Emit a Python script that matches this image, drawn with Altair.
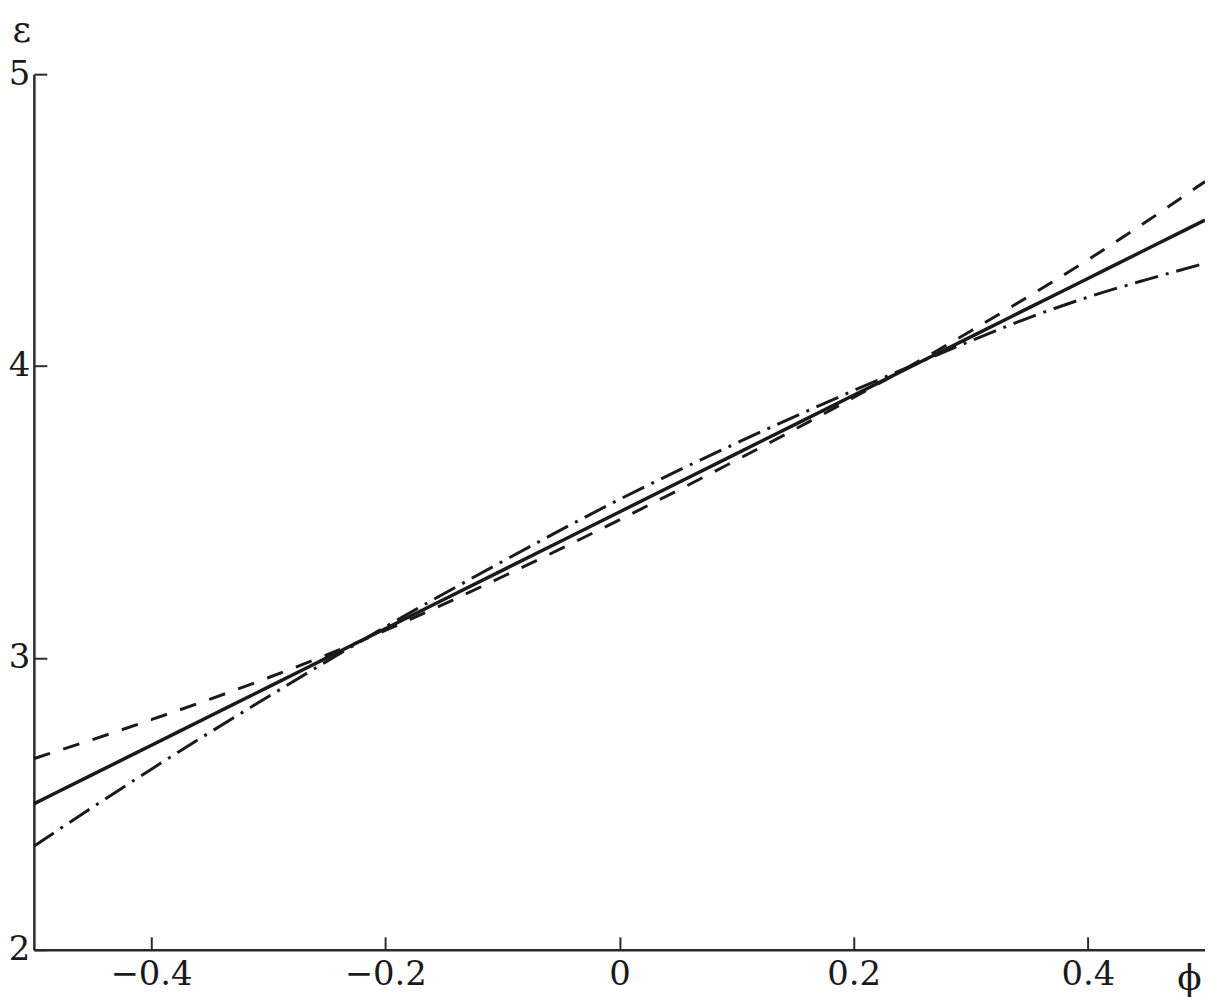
import altair as alt
import pandas as pd

phi = [-0.5, -0.45, -0.4, -0.35, -0.3, -0.25, -0.2, -0.1, 0.0, 0.1, 0.2, 0.25, 0.3, 0.35, 0.4, 0.45, 0.5]
eps_solid = [2.5, 2.6, 2.7, 2.8, 2.9, 3.0, 3.1, 3.3, 3.5, 3.7, 3.9, 4.0, 4.1, 4.2, 4.3, 4.4, 4.5]
eps_dashed = [2.655, 2.72, 2.788, 2.858, 2.932, 3.01, 3.094, 3.278, 3.473, 3.678, 3.892, 4.004, 4.12, 4.24, 4.364, 4.495, 4.632]
eps_dashdot = [2.355, 2.488, 2.618, 2.744, 2.867, 2.988, 3.106, 3.33, 3.543, 3.736, 3.916, 4.002, 4.086, 4.166, 4.236, 4.296, 4.352]

x_ticks = [-0.4, -0.2, 0.0, 0.2, 0.4]
y_ticks = [2, 3, 4, 5]
series_names = ["solid", "dashed", "dashdot"]

rows = []
for name, vals in zip(series_names, [eps_solid, eps_dashed, eps_dashdot]):
    for p, e in zip(phi, vals):
        rows.append({"phi": p, "eps": e, "s": name})
df = pd.DataFrame(rows)

W, H = 1177, 880
FONT = "DejaVu Serif"
INK = "#1a1a1a"
AX = "#2a2a2a"

xscale = alt.Scale(domain=[-0.5, 0.5], nice=False, zero=False)
yscale = alt.Scale(domain=[2, 5], nice=False, zero=False)

base = alt.Chart(df)

solid = base.transform_filter(alt.datum.s == "solid").mark_line(
    interpolate="monotone", strokeWidth=3.5, color=INK
).encode(
    x=alt.X("phi:Q", scale=xscale, axis=alt.Axis(
        orient="bottom", values=x_ticks, format="~g", ticks=False, grid=False,
        domain=True, domainColor=AX, domainWidth=2.5,
        labelFont=FONT, labelFontSize=34, labelColor=INK, labelPadding=8,
        title="ϕ", titleFont=FONT, titleFontSize=36, titleFontWeight="normal",
        titleColor=INK, titleX=1161, titleY=40, titleAlign="center",
        titleBaseline="alphabetic", titleAngle=0)),
    y=alt.Y("eps:Q", scale=yscale, axis=alt.Axis(
        orient="left", values=y_ticks, format="d", ticks=False, grid=False,
        domain=True, domainColor=AX, domainWidth=2.5,
        labelFont=FONT, labelFontSize=34, labelColor=INK, labelPadding=4,
        title="ε", titleFont=FONT, titleFontSize=36, titleFontWeight="normal",
        titleColor=INK, titleX=-22, titleY=-33, titleAlign="left",
        titleBaseline="alphabetic", titleAngle=0)),
)

dashed = base.transform_filter(alt.datum.s == "dashed").mark_line(
    interpolate="monotone", strokeWidth=3, color=INK, strokeDash=[17, 14]
).encode(
    x=alt.X("phi:Q", scale=xscale, axis=alt.Axis(
        orient="top", offset=-H, values=x_ticks, labels=False, domain=False,
        ticks=True, tickSize=13, tickWidth=2, tickColor=AX, grid=False, title="")),
    y=alt.Y("eps:Q", scale=yscale, axis=alt.Axis(
        orient="right", offset=-W, values=y_ticks, labels=False, domain=False,
        ticks=True, tickSize=13, tickWidth=2, tickColor=AX, grid=False, title="")),
)

dashdot = base.transform_filter(alt.datum.s == "dashdot").mark_line(
    interpolate="monotone", strokeWidth=3, color=INK, strokeDash=[24, 8, 3, 8]
).encode(
    x=alt.X("phi:Q", scale=xscale, axis=None),
    y=alt.Y("eps:Q", scale=yscale, axis=None),
)

chart = alt.layer(solid, dashed, dashdot).resolve_axis(
    x="independent", y="independent"
).properties(
    width=W, height=H,
    background="white",
    autosize=alt.AutoSizeParams(type="none"),
    padding={"left": 26, "top": 64, "right": 0, "bottom": 52},
).configure_view(stroke=None, strokeWidth=0).configure_axis(
    grid=False, labelFont=FONT, titleFont=FONT
).configure_text(font=FONT)

chart.save("out.html", embed_options={"renderer": "svg", "actions": False})
